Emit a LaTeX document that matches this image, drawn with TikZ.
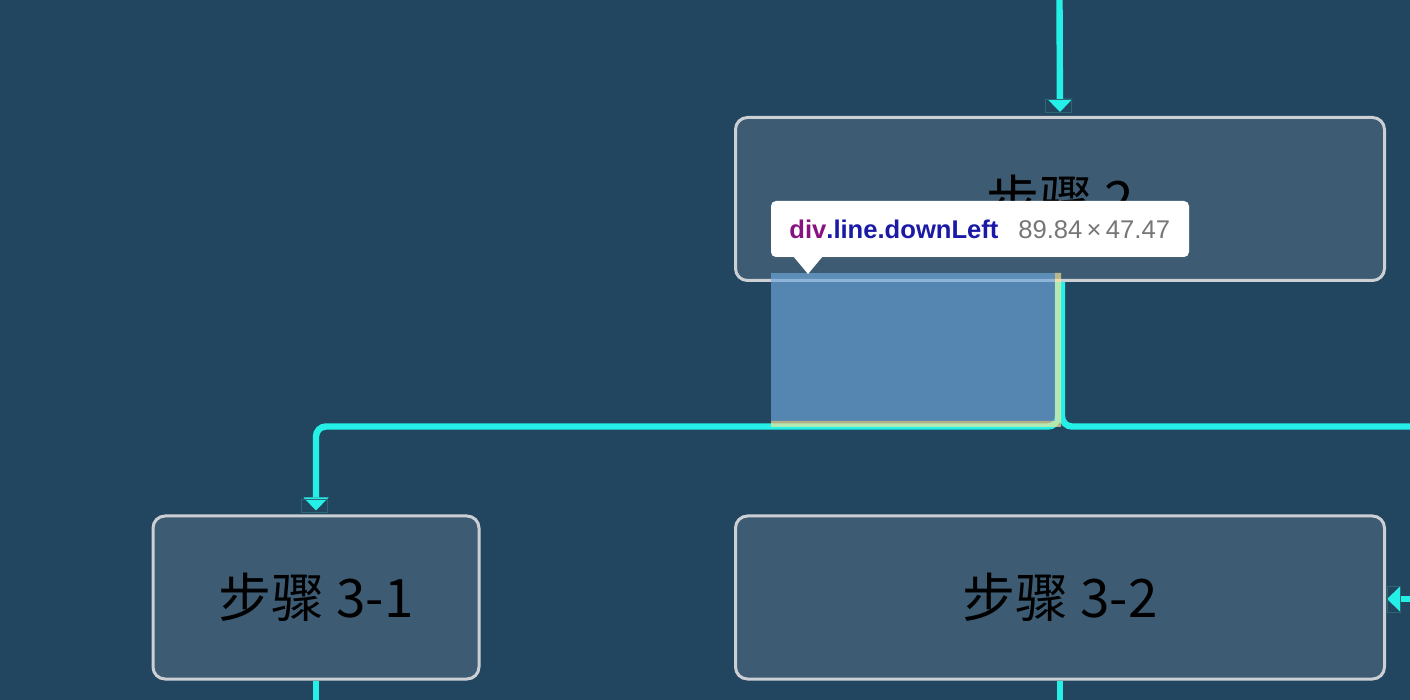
\documentclass[tikz,border=0pt]{standalone}
\usepackage{fontspec}
\newfontfamily\cjk{Noto Sans CJK SC}
\newfontfamily\uifont{Liberation Sans}
\usetikzlibrary{arrows.meta,shadows}
\definecolor{bgblue}{RGB}{35,70,96}
\definecolor{boxfill}{RGB}{61,92,115}
\definecolor{boxedge}{RGB}{204,208,212}
\definecolor{flowcyan}{RGB}{36,240,232}
\definecolor{tipouter}{RGB}{44,104,116}
\definecolor{hlcontent}{RGB}{111,168,220}
\definecolor{hlborder}{RGB}{255,229,153}
\definecolor{tagpurple}{RGB}{136,18,128}
\definecolor{classblue}{RGB}{26,26,166}
\definecolor{sizegray}{RGB}{118,118,118}

\begin{document}
\begin{tikzpicture}[x=0.5pt,y=-0.5pt]
	% one unit is one pixel of the screenshot
	\tikzset{node distance=199.25pt, % centre to centre, step 2 down to step 3-2
		stepbox/.style={draw=boxedge,line width=1.5pt,fill=boxfill,rounded corners=6pt,
			minimum width=324.5pt,minimum height=81.5pt,inner sep=0pt,
			font=\cjk\fontsize{26.5}{30}\selectfont,text=black},
		flow/.style={draw=flowcyan,line width=3.2pt},
		flowarrow/.style={flow,-{Triangle[width=12.5pt,length=6.5pt,line width=0pt]},shorten >=2pt},
		tipframe/.style={draw=tipouter,line width=0.5pt},
		tooltip/.style={fill=white,rounded corners=2.5pt,minimum width=209pt,minimum height=28pt,
			inner sep=0pt,drop shadow={shadow xshift=0pt,shadow yshift=-1pt,opacity=0.15}},
	}
	\fill[bgblue] (0,0) rectangle (1410,700);
	\useasboundingbox (0,0) rectangle (1410,700);
	% the steps
	\node[stepbox] (step2) at (1060,199) {步骤 2};
	\node[stepbox,below of=step2] (step32) {步骤 3-2};
	\node[stepbox,minimum width=163pt,left of=step32,node distance=372pt] (step31) {步骤 3-1};
	% free ends of the lines, outside the screenshot
	\coordinate (topin) at (1059.5,0);
	\coordinate (splitL) at (1058,426.5);
	\coordinate (exitR) at (1410,426.5);
	\coordinate (inR) at (1410,599);
	\coordinate (out31) at (316,700);
	\coordinate (out32) at (1060,700);
	% connectors
	\draw[flowarrow] (topin) -- (step2.north);
	\draw[flowarrow,rounded corners=5pt] ([xshift=-1pt]step2.south) -- (splitL) -| (step31.north);
	\draw[flow,rounded corners=5pt] ([xshift=1pt]step2.south) |- (exitR);
	\draw[flowarrow,shorten >=0.5pt] (inR) -- (inR -| step32.east);
	\draw[flow] (step31.south) -- (out31);
	\draw[flow] (step32.south) -- (out32);
	% boxes of the arrow heads
	\draw[tipframe] (1045.5,99.5) rectangle (1071.5,113);
	\draw[tipframe] (301.5,499.5) rectangle (327.5,513);
	\draw[tipframe] (1387,586) rectangle (1400.5,612);
	% highlighted element: content and border
	\fill[hlcontent,opacity=0.66] (771,273) rectangle (1055,421);
	\fill[hlborder,opacity=0.66] (1055,273) rectangle (1061,427) (771,421) rectangle (1055,427);
	% the tooltip with its pointer
	\node[tooltip] (tip) at (980,229) {};
	\fill[white] (793,256) -- (808,274) -- (823,256) -- cycle;
	\node[anchor=base west,inner sep=0pt,font=\uifont\bfseries\fontsize{12.8}{15}\selectfont] (tiptag) at (789,239)
		{\textcolor{tagpurple}{div}\textcolor{classblue}{.line.downLeft}};
	\node[anchor=base west,inner sep=0pt,text=sizegray,font=\uifont\fontsize{12.8}{15}\selectfont] (tipsize) at (1018,239)
		{89.84\,×\,47.47};
\end{tikzpicture}
\end{document}
